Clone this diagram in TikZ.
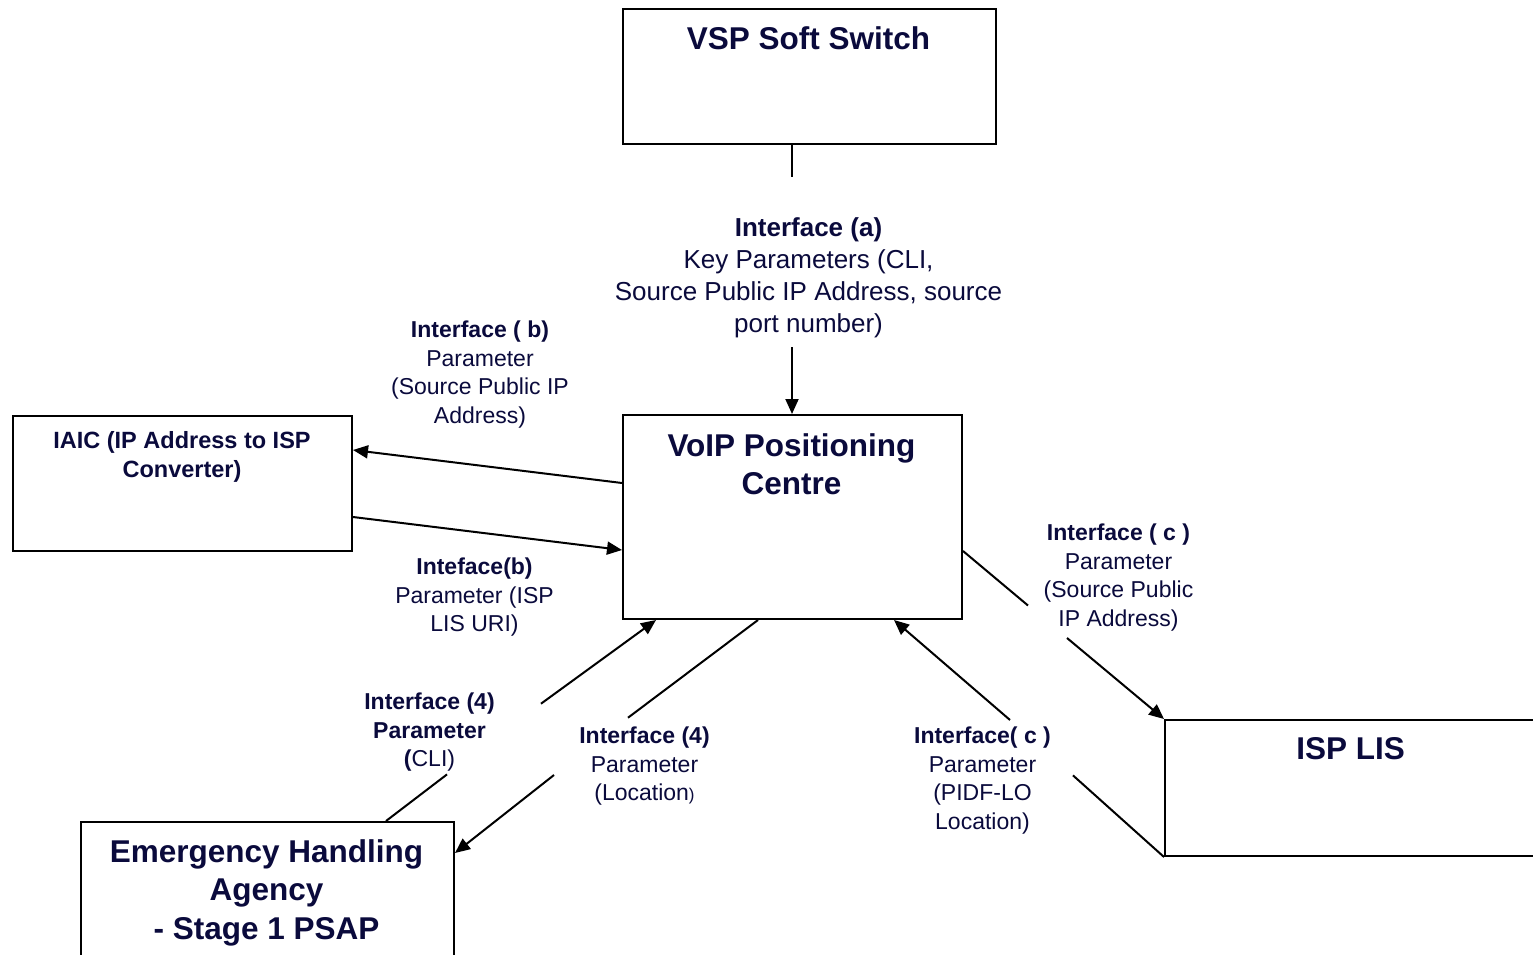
\documentclass[tikz,border=0pt]{standalone}
\usepackage{fontspec}
\setmainfont{Liberation Sans}
\usetikzlibrary{arrows.meta,calc}
\definecolor{navy}{RGB}{10,10,60}
\begin{document}
\begin{tikzpicture}[x=1pt,y=-1pt,
  box/.style={draw=black,line width=2pt,inner sep=0pt,anchor=north west},
  ttl/.style={text=navy,font=\bfseries\fontsize{31.5}{38}\selectfont,align=center,inner sep=0pt,anchor=north},
  ttlsmall/.style={ttl,font=\bfseries\fontsize{23.5}{29}\selectfont},
  lbl/.style={text=navy,font=\fontsize{23}{28.8}\selectfont,align=center,inner sep=0pt,anchor=north},
  lbla/.style={lbl,font=\fontsize{26}{32}\selectfont},
  con/.style={draw=black,line width=2pt},
  arr/.style={con,-{Triangle[length=15pt,width=13pt]}}]
\useasboundingbox (0,0) rectangle (1533,955);
\fill[white] (0,0) rectangle (1533,955);
\clip (0,0) rectangle (1533,955);

% boxes
\node[box,minimum width=373pt,minimum height=135pt] (vsp) at (622,8) {};
\node[box,minimum width=339pt,minimum height=204pt] (voip) at (622,414) {};
\node[box,minimum width=339pt,minimum height=135pt] (iaic) at (12,415) {};
\node[box,minimum width=373pt,minimum height=136pt] (lis) at (1164,719) {};
\node[box,minimum width=373pt,minimum height=170pt] (eha) at (80,821) {};

% titles
\node[ttl] (vspT) at (808.5,26.3) {VSP Soft Switch};
\node[ttl] (voipT) at (791.5,433.3) {VoIP Positioning\\Centre};
\node[ttlsmall] (iaicT) at (182,431) {IAIC (IP Address to ISP\\Converter)};
\node[ttl] (lisT) at (1350.5,737.3) {ISP LIS};
\node[ttl,font=\bfseries\fontsize{31.5}{38.5}\selectfont] (ehaT) at (266.5,839.3) {Emergency Handling\\Agency\\- Stage 1 PSAP};

% labels
\node[lbla] (la) at (808.5,217.3) {\textbf{Interface (a)}\\Key Parameters (CLI,\\Source Public IP Address, source\\port number)};
\node[lbl] (lb1) at (480,320.4) {\textbf{Interface ( b)}\\Parameter\\(Source Public IP\\Address)};
\node[lbl] (lb2) at (474.5,557.4) {\textbf{Inteface(b)}\\Parameter (ISP\\LIS URI)};
\node[lbl] (lc1) at (1118.5,523.4) {\textbf{Interface ( c )}\\Parameter\\(Source Public\\IP Address)};
\node[lbl] (l4a) at (429.5,692.4) {\textbf{Interface (4)}\\\textbf{Parameter}\\\textbf{(}CLI)};
\node[lbl] (l4b) at (644.5,726.4) {\textbf{Interface (4)}\\Parameter\\(Location{\fontsize{17}{28.8}\selectfont)}};
\node[lbl] (lc2) at (982.5,726.4) {\textbf{Interface( c )}\\Parameter\\(PIDF-LO\\Location)};

% gap coordinates
\coordinate (ga1) at (792,177);
\coordinate (ga2) at (792,347);
\coordinate (gc1) at (1028,605.5);
\coordinate (gc2) at (1067,638);
\coordinate (gd1) at (1073,775.4);
\coordinate (gd2) at (1010,720);
\coordinate (g4a1) at (447,774.4);
\coordinate (g4a2) at (541,703.7);
\coordinate (g4b1) at (628,717.7);
\coordinate (g4b2) at (554,775);

% connectors
\draw[con] (vsp.south -| ga1) -- (ga1);
\draw[arr] (ga2) -- (voip.north -| ga2);
\draw[arr] ([yshift=34pt]voip.west) -- ([yshift=33.5pt]iaic.east);
\draw[arr] ([yshift=-33.5pt]iaic.east) -- ([yshift=-33pt]voip.west);
\draw[con] ([yshift=-34pt]voip.east) -- (gc1);
\draw[arr] (gc2) -- (lis.north west);
\draw[con] (lis.south west) -- (gd1);
\draw[arr] (gd2) -- ([xshift=101.5pt]voip.south);
\draw[con] ([xshift=118.5pt]eha.north) -- (g4a1);
\draw[arr] (g4a2) -- ([xshift=-136.5pt]voip.south);
\draw[con] ([xshift=-34.5pt]voip.south) -- (g4b1);
\draw[arr] (g4b2) -- ([yshift=-32pt]eha.north east);
\end{tikzpicture}
\end{document}
